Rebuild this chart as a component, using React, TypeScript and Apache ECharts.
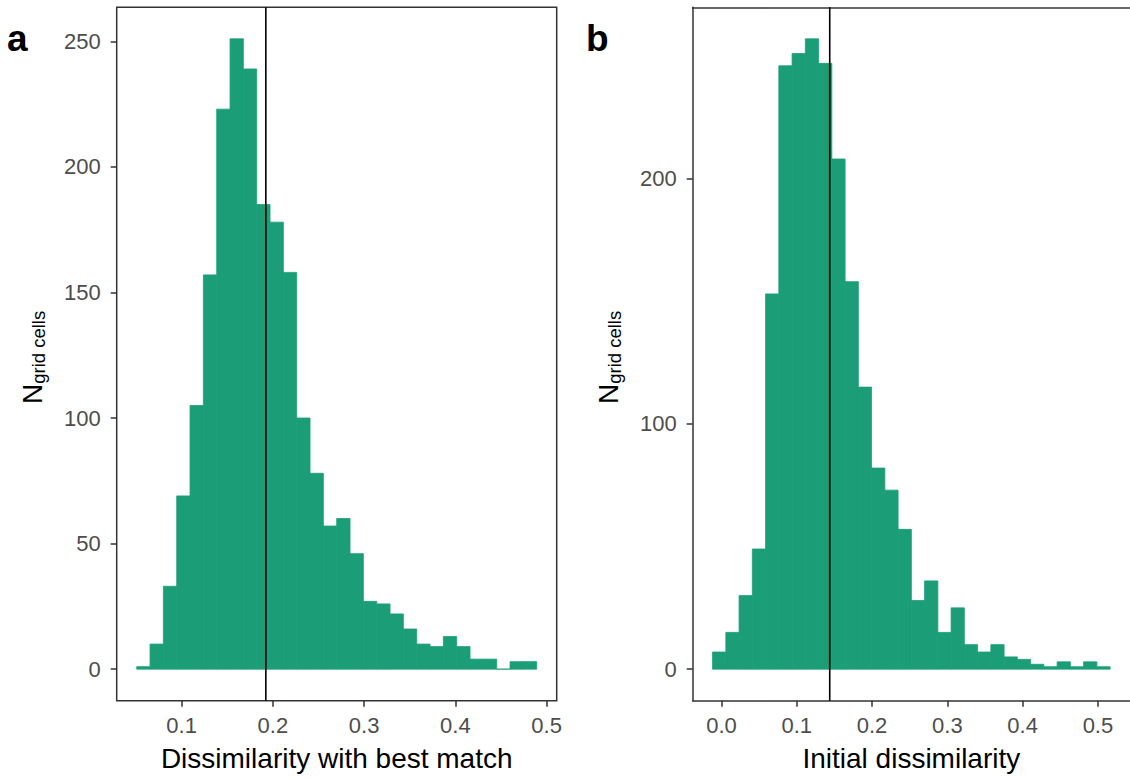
import React, { useEffect, useRef } from "react";
import * as echarts from "echarts";

// Histogram counts (panel a: dissimilarity with best match; panel b: initial dissimilarity)
const countsA = [1, 10, 33, 69, 105, 157, 223, 251, 239, 185, 178, 158, 100, 78, 57, 60, 46, 27, 26, 22, 16, 10, 9, 13, 9, 4, 4, 0, 3, 3];
const countsB = [7, 15, 30, 49, 153, 246, 251, 257, 247, 208, 158, 115, 82, 73, 57, 28, 36, 15, 25, 10, 7, 10, 5, 4, 2, 1, 3, 1, 3, 1];

// Bin layout (left edge of first bin and bin width, in data units)
const binStartA = 0.0508;
const binWidthA = 0.01461;
const binStartB = -0.0118;
const binWidthB = 0.0176;

// Vertical reference lines
const lineA = 0.1923;
const lineB = 0.1438;

// Tick values
const xTicksA = [0.1, 0.2, 0.3, 0.4, 0.5];
const xTicksB = [0.0, 0.1, 0.2, 0.3, 0.4, 0.5];
const yTicksA = [0, 50, 100, 150, 200, 250];
const yTicksB = [0, 100, 200];

const titleA = "Dissimilarity with best match";
const titleB = "Initial dissimilarity";

const GREEN = "#1B9E77";
const FONT = '"Liberation Sans", Arial, sans-serif';
const AXIS = "#333333";
const TICKTXT = "#4D4D4D";

function binsOf(counts: number[], start: number, w: number) {
  return counts.map((c, i) => [start + i * w, start + (i + 1) * w, c]);
}

function expand(lo: number, hi: number) {
  const d = (hi - lo) * 0.05;
  return [lo - d, hi + d];
}

export default function App() {
  const ref = useRef<HTMLDivElement>(null);

  useEffect(() => {
    if (!ref.current) return;
    const chart = echarts.init(ref.current, null, { renderer: "svg" });

    const dataA = binsOf(countsA, binStartA, binWidthA);
    const dataB = binsOf(countsB, binStartB, binWidthB);
    const [xMinA, xMaxA] = expand(binStartA, binStartA + countsA.length * binWidthA);
    const [xMinB, xMaxB] = expand(binStartB, binStartB + countsB.length * binWidthB);
    const [yMinA, yMaxA] = expand(0, Math.max(...countsA));
    const [yMinB, yMaxB] = expand(0, Math.max(...countsB));

    const renderItem = (params: any, api: any) => {
      const p0 = api.coord([api.value(0), api.value(2)]);
      const p1 = api.coord([api.value(1), 0]);
      return {
        type: "rect",
        shape: { x: p0[0], y: p0[1], width: p1[0] - p0[0], height: p1[1] - p0[1] },
        style: { fill: GREEN, stroke: GREEN, lineWidth: 0.8 },
      };
    };

    const lineStyleAxis = { color: AXIS, width: 1.5 };

    const xAxisBase = (gi: number, min: number, max: number, ticks: number[], name: string, showLine: boolean) => ({
      type: "value",
      gridIndex: gi,
      position: "bottom",
      min,
      max,
      name,
      nameLocation: "middle",
      nameGap: 44,
      nameTextStyle: { fontSize: 28, color: "#000", fontFamily: FONT },
      axisLine: { show: showLine, onZero: false, lineStyle: lineStyleAxis },
      axisTick: { show: true, length: 6, lineStyle: lineStyleAxis, customValues: ticks },
      axisLabel: {
        customValues: ticks,
        margin: 14,
        fontSize: 22,
        color: TICKTXT,
        fontFamily: FONT,
        formatter: (v: number) => v.toFixed(1),
      },
      splitLine: { show: false },
    });

    const yAxisBase = (gi: number, min: number, max: number, ticks: number[], showLine: boolean) => ({
      type: "value",
      gridIndex: gi,
      position: "left",
      min,
      max,
      axisLine: { show: showLine, onZero: false, lineStyle: lineStyleAxis },
      axisTick: { show: true, length: 6, lineStyle: lineStyleAxis, customValues: ticks },
      axisLabel: {
        customValues: ticks,
        margin: 16,
        fontSize: 22,
        color: TICKTXT,
        fontFamily: FONT,
        formatter: (v: number) => String(Math.round(v)),
      },
      splitLine: { show: false },
    });

    // top border of panel b (its right border falls outside the picture)
    const topBorderB = {
      type: "value",
      gridIndex: 1,
      position: "top",
      min: xMinB,
      max: xMaxB,
      axisLine: { show: true, onZero: false, lineStyle: lineStyleAxis },
      axisTick: { show: false },
      axisLabel: { show: false },
      splitLine: { show: false },
    };

    const yTitle = (x: number) => ({
      type: "group",
      x,
      y: 404,
      rotation: Math.PI / 2,
      children: [
        {
          type: "text",
          x: 0,
          y: -9.7,
          style: { text: "N", font: `28px ${FONT}`, fill: "#000", textAlign: "left", textVerticalAlign: "middle" },
        },
        {
          type: "text",
          x: 20.2,
          y: -2.9,
          style: { text: "grid cells", font: `18.5px ${FONT}`, fill: "#000", textAlign: "left", textVerticalAlign: "middle" },
        },
      ],
    });

    chart.setOption({
      animation: false,
      backgroundColor: "#fff",
      grid: [
        { left: 116.7, top: 7.3, width: 440, height: 693.4, show: true, borderColor: AXIS, borderWidth: 1.5, backgroundColor: "transparent" },
        { left: 692.7, top: 7.3, width: 441.4, height: 693.4, show: false },
      ],
      xAxis: [
        xAxisBase(0, xMinA, xMaxA, xTicksA, titleA, false),
        xAxisBase(1, xMinB, xMaxB, xTicksB, titleB, true),
        topBorderB,
      ],
      yAxis: [yAxisBase(0, yMinA, yMaxA, yTicksA, false), yAxisBase(1, yMinB, yMaxB, yTicksB, true)],
      series: [
        {
          type: "custom",
          xAxisIndex: 0,
          yAxisIndex: 0,
          renderItem,
          encode: { x: [0, 1], y: 2 },
          data: dataA,
          silent: true,
        },
        {
          type: "custom",
          xAxisIndex: 1,
          yAxisIndex: 1,
          renderItem,
          encode: { x: [0, 1], y: 2 },
          data: dataB,
          silent: true,
        },
        {
          type: "line",
          xAxisIndex: 0,
          yAxisIndex: 0,
          data: [
            [lineA, yMinA],
            [lineA, yMaxA],
          ],
          showSymbol: false,
          symbol: "none",
          lineStyle: { color: "#000", width: 1.6 },
          z: 5,
          silent: true,
        },
        {
          type: "line",
          xAxisIndex: 1,
          yAxisIndex: 1,
          data: [
            [lineB, yMinB],
            [lineB, yMaxB],
          ],
          showSymbol: false,
          symbol: "none",
          lineStyle: { color: "#000", width: 1.6 },
          z: 5,
          silent: true,
        },
      ],
      graphic: [
        yTitle(41.7),
        yTitle(617.7),
        {
          type: "text",
          x: 7,
          y: 38.5,
          style: { text: "a", font: `bold 37px ${FONT}`, fill: "#000", textAlign: "left", textVerticalAlign: "middle" },
        },
        {
          type: "text",
          x: 586,
          y: 38.5,
          style: { text: "b", font: `bold 37px ${FONT}`, fill: "#000", textAlign: "left", textVerticalAlign: "middle" },
        },
      ],
    });

    return () => chart.dispose();
  }, []);

  return (
    <div
      ref={ref}
      style={{ position: "fixed", left: 0, top: 0, width: 1130, height: 778, background: "#fff" }}
    />
  );
}
